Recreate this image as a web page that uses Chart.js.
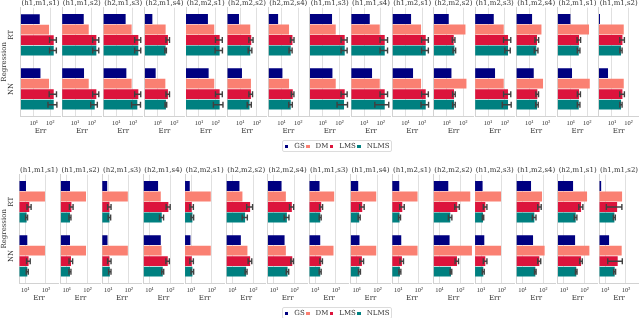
<!DOCTYPE html>
<html>
<head>
<meta charset="utf-8">
<script src="https://cdn.jsdelivr.net/npm/chart.js@4.4.0/dist/chart.umd.min.js"></script>
<style>
  html, body { margin: 0; padding: 0; background: #fff; }
  body { width: 640px; height: 318px; position: relative; overflow: hidden; }
  canvas { position: absolute; }
  .legend {
    position: absolute; left: 282px; width: 110px; height: 12px;
    box-sizing: border-box; border: 1px solid #dcdcdc; border-radius: 2px;
    display: flex; align-items: center; padding-left: 2px;
    font: 7px 'DejaVu Serif', serif; color: #333; white-space: nowrap;
  }
  .legend .sw { display: inline-block; width: 5px; height: 3px; margin-right: 6px; }
  .legend .tx { margin-right: 1.5px; }
</style>
</head>
<body>
<script>
(function () {
  // panel titles, shared by both rows
  const panelTitles = ['(h1,m1,s1)', '(h1,m1,s2)', '(h2,m1,s3)', '(h2,m1,s4)', '(h2,m2,s1)',
                       '(h2,m2,s2)', '(h2,m2,s4)', '(h1,m1,s3)', '(h1,m1,s4)', '(h1,m2,s1)',
                       '(h2,m2,s2)', '(h1,m2,s3)', '(h1,m2,s4)', '(h2,m1,s1)', '(h1,m1,s2)'];
  const groups  = ['RT', 'NN'];
  const methods = ['GS', 'DM', 'LMS', 'NLMS'];
  const tickValues = [10, 100];
  const tickLabels = ['10¹', '10²'];

  // top row: one [RT, NN] pair per panel
  const topGS   = [[23, 25.4], [33.4, 34.8], [36.3, 40.1], [4.8, 7.6], [34.8, 38.4], [8.4, 12.7], [6.2, 11.3], [35.8, 37.8],
                   [21.8, 29.9], [21.8, 28.7], [13.2, 19.2], [22.1, 26.4], [14.6, 18.4], [9.7, 12.1], [1.9, 5.8]];
  const topDM   = [[83.5, 83.5], [66.8, 66.8], [83.5, 83.5], [30.3, 29.1], [83.5, 83.5], [40.1, 44.1], [28.3, 28.3], [59.8, 59.8],
                   [87, 87], [87, 87], [134, 154], [88.3, 88.3], [53.6, 66.8], [128, 142], [51.4, 51.4]];
  const topLMS  = [[160, 160], [192, 192], [211, 211], [41.8, 41.8], [177, 177], [46, 44.1], [45.4, 47.3], [208, 208],
                   [174, 174], [167, 167], [26.4, 27.5], [160, 160], [29.1, 30.3], [32.1, 32.1], [42.9, 42.9]];
  const topNLMS = [[160, 160], [192, 154], [211, 184], [30.3, 31.6], [177, 177], [40.1, 36.3], [35.8, 35.8], [208, 189],
                   [174, 174], [167, 167], [29.1, 27.5], [160, 160], [26.4, 29.1], [30.8, 30.8], [35.3, 35.3]];
  const topLMSErr  = [[70, 75], [77, 77], [84, 84], [10, 10], [78, 78], [13, 11], [11, 8.5], [83, 83],
                      [83, 83], [73, 73], [4.8, 5], [74, 74], [7.3, 5.5], [7.7, 6.7], [13.3, 13.3]];
  const topNLMSErr = [[70, 88], [77, 66], [84, 101], [3.4, 3.6], [83, 103], [10, 10], [7.5, 8.6], [83, 117],
                      [83, 130], [73, 80], [5.2, 5], [58, 88], [6.6, 5.2], [5.5, 5.5], [5.6, 5.6]];

  // bottom row
  const botGS   = [[10.8, 12.5], [14.4, 14.4], [9.0, 9.3], [25.7, 34.8], [8.7, 9.4], [21.8, 25.5], [23.5, 32.9], [16, 17.3],
                   [11.8, 13.6], [11.3, 14.1], [26.3, 30.4], [11.9, 14.4], [26, 32.5], [27.8, 34.8], [6.3, 15.2]];
  const botDM   = [[89.5, 89.5], [85.5, 85.5], [89.5, 89.5], [34.8, 38], [90.4, 90.4], [30.4, 53], [38, 38], [81.8, 75.7],
                   [87.5, 87.5], [86.5, 86.5], [304, 367], [92.5, 92.5], [88.5, 118], [132, 171], [64.7, 61.9]];
  const botLMS  = [[15.6, 14.4], [16.9, 16.1], [11.6, 11.6], [81, 75.7], [10.9, 10.9], [71.6, 71.6], [74, 77.4], [19.3, 19.3],
                   [18.4, 17.8], [15.8, 15.2], [71.6, 69.2], [16.1, 16.1], [67.7, 65.5], [67.7, 67.7], [37.2, 39.7]];
  const botNLMS = [[11.6, 12.5], [14.4, 14.4], [11.6, 12.1], [38.8, 43.4], [11.7, 11.7], [41, 45.9], [42.5, 45.9], [17.3, 17.3],
                   [13.2, 13.6], [11.7, 12.2], [32.9, 35.6], [12.5, 12.9], [37.6, 42], [37.2, 39.7], [27.5, 28.4]];
  const botLMSErr  = [[3.5, 2.9], [3.4, 3.2], [2.2, 2.2], [18, 14.4], [2.1, 2.1], [22.6, 14.3], [16.7, 11.2], [3.2, 2.8],
                      [4.5, 3.6], [3.9, 2.9], [17.7, 13.1], [3.2, 3.2], [12.9, 11], [15.2, 9.8], [26, 26.6]];
  const botNLMSErr = [[1.3, 1.4], [1.6, 1.6], [1.6, 1.6], [8.7, 4.8], [1.7, 1.7], [11.5, 5], [11, 6.2], [1.9, 1.9],
                      [1.5, 1.5], [1.3, 1.3], [6.3, 3.2], [1, 1.4], [7.5, 3.7], [5.4, 3.5], [3, 3.1]];

  // x limits of each row (log axis)
  const topRange = [1.66, 398];
  const botRange = [5.13, 417];

  const colors    = ['#000080', '#fa8072', '#dc143c', '#008080'];
  const textColor = '#333333';
  const gridColor = '#e0e0e0';
  const spineColor = '#d2d2d2';
  const PANEL_W = 39.5;

  Chart.defaults.font.family = "'DejaVu Serif', serif";
  Chart.defaults.font.size = 7;
  Chart.defaults.color = textColor;

  // whiskers for datasets that carry an `errors` array
  const errorBars = {
    id: 'errorBars',
    afterDatasetsDraw(chart) {
      const { ctx } = chart;
      const xs = chart.scales.x;
      chart.data.datasets.forEach((ds, di) => {
        if (!ds.errors) return;
        chart.getDatasetMeta(di).data.forEach((bar, j) => {
          const v = ds.data[j], e = ds.errors[j];
          const lo = xs.getPixelForValue(Math.max(v - e, xs.min));
          const hi = xs.getPixelForValue(v + e);
          const cap = bar.height * 0.3;
          ctx.save();
          ctx.strokeStyle = '#404040';
          ctx.lineWidth = 1.4;
          ctx.beginPath();
          ctx.moveTo(lo, bar.y); ctx.lineTo(hi, bar.y);
          ctx.moveTo(lo, bar.y - cap); ctx.lineTo(lo, bar.y + cap);
          ctx.moveTo(hi, bar.y - cap); ctx.lineTo(hi, bar.y + cap);
          ctx.stroke();
          ctx.restore();
        });
      });
    },
  };

  const rows = [
    { top: 0,   firstLeft: 20.8, pitch: 41.3,  range: topRange, legendTop: 140,
      series: [topGS, topDM, topLMS, topNLMS], errs: [null, null, topLMSErr, topNLMSErr] },
    { top: 167, firstLeft: 19.3, pitch: 41.43, range: botRange, legendTop: 307,
      series: [botGS, botDM, botLMS, botNLMS], errs: [null, null, botLMSErr, botNLMSErr] },
  ];

  function makePanel(row, i) {
    const first = i === 0;
    const areaLeft = row.firstLeft + row.pitch * i;
    const canvasLeft = first ? 0 : Math.floor(areaLeft) - 5;
    const width = Math.ceil(areaLeft + PANEL_W + 5) - canvasLeft;
    const padLeft = first ? 0 : areaLeft - canvasLeft;
    const padRight = canvasLeft + width - (areaLeft + PANEL_W);
    const yWidth = first ? areaLeft : 0;

    const canvas = document.createElement('canvas');
    canvas.width = width;
    canvas.height = 135;
    canvas.style.left = canvasLeft + 'px';
    canvas.style.top = row.top + 'px';
    canvas.style.width = width + 'px';
    canvas.style.height = '135px';
    document.body.appendChild(canvas);

    new Chart(canvas, {
      type: 'bar',
      data: {
        labels: groups,
        datasets: methods.map((m, k) => ({
          label: m,
          data: row.series[k][i],
          errors: row.errs[k] ? row.errs[k][i] : null,
          backgroundColor: colors[k],
          borderWidth: 0,
          categoryPercentage: 0.776,
          barPercentage: 0.94,
        })),
      },
      options: {
        indexAxis: 'y',
        responsive: false,
        animation: false,
        events: [],
        layout: { padding: { left: padLeft, right: padRight, top: 0, bottom: 0 } },
        scales: {
          x: {
            type: 'logarithmic',
            bounds: 'data',
            min: row.range[0],
            max: row.range[1],
            grid: { color: gridColor, drawTicks: false },
            border: { color: spineColor },
            afterBuildTicks: (s) => { s.ticks = tickValues.map(v => ({ value: v })); },
            ticks: {
              autoSkip: false, maxRotation: 0, padding: 3.5,
              font: { family: "'Liberation Serif', serif", size: 6.5 },
              callback: (v) => tickLabels[tickValues.indexOf(v)] ?? '',
            },
            title: { display: true, text: 'Err', padding: 0 },
            afterFit: (s) => { s.height = 19; },
          },
          y: {
            type: 'category',
            grid: { display: false, drawTicks: false },
            border: { display: true, color: spineColor },
            ticks: {
              display: first, minRotation: 90, maxRotation: 90, crossAlign: 'center',
              padding: areaLeft - 12 - 5.25,
            },
            title: { display: first, text: 'Regression', padding: { top: 0.3, bottom: 0 } },
            afterFit: (s) => { s.width = yWidth; },
          },
        },
        plugins: {
          legend: { display: false },
          tooltip: { enabled: false },
          title: {
            display: true, text: panelTitles[i], fullSize: false, color: textColor,
            padding: { top: 0, bottom: 0.7 },
            font: { size: 7, lineHeight: 1, weight: 'normal' },
          },
        },
      },
      plugins: [errorBars],
    });
  }

  function makeLegend(top) {
    const box = document.createElement('div');
    box.className = 'legend';
    box.style.top = top + 'px';
    methods.forEach((m, k) => {
      const sw = document.createElement('span');
      sw.className = 'sw';
      sw.style.background = colors[k];
      const tx = document.createElement('span');
      tx.className = 'tx';
      tx.textContent = m;
      box.append(sw, tx);
    });
    document.body.appendChild(box);
  }

  rows.forEach(row => {
    panelTitles.forEach((_, i) => makePanel(row, i));
    makeLegend(row.legendTop);
  });
})();
</script>
</body>
</html>
